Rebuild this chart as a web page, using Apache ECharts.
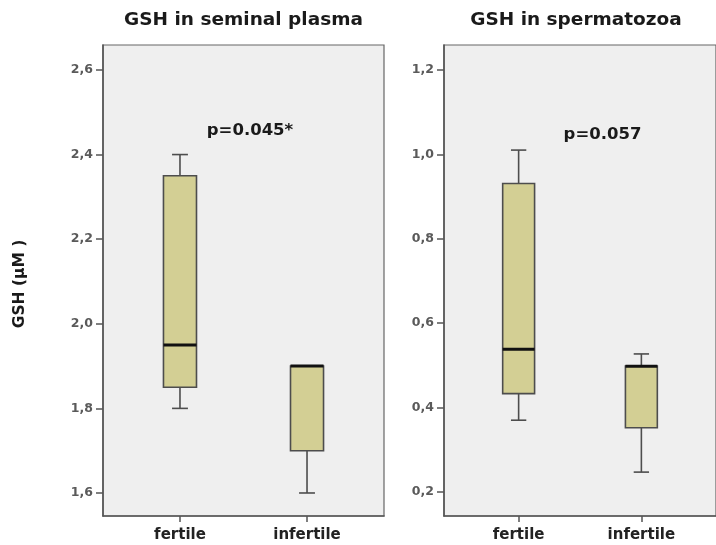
<!DOCTYPE html>
<html>
<head>
<meta charset="utf-8">
<script src="https://cdn.jsdelivr.net/npm/echarts@6/dist/echarts.min.js"></script>
<style>
html,body{margin:0;padding:0;background:#fff;}
#chart{width:716px;height:545px;}
</style>
</head>
<body>
<div id="chart"></div>
<script>
// ---- data ----
const categories = ['fertile', 'infertile'];
// [min, Q1, median, Q3, max]
const plasmaFertile = [1.80, 1.85, 1.95, 2.35, 2.40];
const plasmaInfertile = [1.60, 1.70, 1.90, 1.90, 1.90];
const spermFertile = [0.37, 0.433, 0.538, 0.931, 1.01];
const spermInfertile = [0.247, 0.352, 0.498, 0.498, 0.527];
const plasmaTicks = [1.6, 1.8, 2.0, 2.2, 2.4, 2.6];
const spermTicks = [0.2, 0.4, 0.6, 0.8, 1.0, 1.2];
const titles = ['GSH in seminal plasma', 'GSH in spermatozoa'];
const pValues = ['p=0.045*', 'p=0.057'];
const yName = 'GSH (µM )';

const FONT = 'DejaVu Sans';
const BOX_FILL = '#d3cf94';
const STROKE = '#4d4d4d';

function toData(arrs) {
  return arrs.map((a, i) => [i].concat(a));
}

function renderBox(params, api) {
  const x = api.value(0);
  const lo = api.value(1), q1 = api.value(2), med = api.value(3), q3 = api.value(4), hi = api.value(5);
  const boxW = api.size([0.26, 0])[0];
  const capW = api.size([0.125, 0])[0];
  const pLo = api.coord([x, lo]);
  const pQ1 = api.coord([x, q1]);
  const pMed = api.coord([x, med]);
  const pQ3 = api.coord([x, q3]);
  const pHi = api.coord([x, hi]);
  const cx = pLo[0];
  const lineStyle = { stroke: STROKE, lineWidth: 1.6, fill: null };
  return {
    type: 'group',
    children: [
      { type: 'line', shape: { x1: cx, y1: pHi[1], x2: cx, y2: pQ3[1] }, style: lineStyle },
      { type: 'line', shape: { x1: cx - capW / 2, y1: pHi[1], x2: cx + capW / 2, y2: pHi[1] }, style: lineStyle },
      { type: 'line', shape: { x1: cx, y1: pQ1[1], x2: cx, y2: pLo[1] }, style: lineStyle },
      { type: 'line', shape: { x1: cx - capW / 2, y1: pLo[1], x2: cx + capW / 2, y2: pLo[1] }, style: lineStyle },
      { type: 'rect', shape: { x: cx - boxW / 2, y: pQ3[1], width: boxW, height: pQ1[1] - pQ3[1] },
        style: { fill: BOX_FILL, stroke: STROKE, lineWidth: 1.6 } },
      { type: 'line', shape: { x1: cx - boxW / 2, y1: pMed[1], x2: cx + boxW / 2, y2: pMed[1] },
        style: { stroke: '#111', lineWidth: 3 } }
    ]
  };
}

function xAxisFor(gridIndex, min, max) {
  return {
    type: 'value', gridIndex, min, max,
    splitLine: { show: false },
    axisLine: { show: true, onZero: false, lineStyle: { color: '#555', width: 1.6 } },
    axisTick: { show: true, customValues: [0, 1], length: 6, lineStyle: { color: '#555', width: 1.5 } },
    axisLabel: {
      customValues: [0, 1], margin: 12,
      formatter: v => categories[Math.round(v)],
      fontFamily: FONT, fontWeight: 'bold', fontSize: 15, color: '#222'
    }
  };
}

function yAxisFor(gridIndex, min, max, ticks) {
  return {
    type: 'value', gridIndex, min, max,
    splitLine: { show: false },
    axisLine: { show: true, onZero: false, lineStyle: { color: '#555', width: 1.6 } },
    axisTick: { show: true, customValues: ticks, length: 7, lineStyle: { color: '#555', width: 1.5 } },
    axisLabel: {
      customValues: ticks, margin: 10,
      formatter: v => v.toFixed(1).replace('.', ','),
      fontFamily: FONT, fontWeight: 'bold', fontSize: 12.5, color: '#5a5a5a'
    }
  };
}

const chart = echarts.init(document.getElementById('chart'), null, { renderer: 'canvas' });
chart.setOption({
  backgroundColor: '#fff',
  animation: false,
  grid: [
    { left: 103, top: 45, width: 281, height: 471, show: true, backgroundColor: '#efefef', borderColor: '#666', borderWidth: 1.2 },
    { left: 444, top: 45, width: 282.5, height: 471, show: true, backgroundColor: '#efefef', borderColor: '#666', borderWidth: 1.2 }
  ],
  xAxis: [
    xAxisFor(0, -0.606, 1.606),
    xAxisFor(1, -0.608, 1.608)
  ],
  yAxis: [
    yAxisFor(0, 1.5456, 2.659, plasmaTicks),
    yAxisFor(1, 0.143, 1.259, spermTicks)
  ],
  series: [
    { type: 'custom', xAxisIndex: 0, yAxisIndex: 0, renderItem: renderBox,
      data: toData([plasmaFertile, plasmaInfertile]), encode: { x: 0, y: [1, 2, 3, 4, 5] } },
    { type: 'custom', xAxisIndex: 1, yAxisIndex: 1, renderItem: renderBox,
      data: toData([spermFertile, spermInfertile]), encode: { x: 0, y: [1, 2, 3, 4, 5] } }
  ],
  graphic: [
    { type: 'text', x: 243.5, y: 20, style: { text: titles[0], fontFamily: FONT, fontWeight: 'bold', fontSize: 18.5, fill: '#1a1a1a', textAlign: 'center', textVerticalAlign: 'middle' } },
    { type: 'text', x: 576, y: 20, style: { text: titles[1], fontFamily: FONT, fontWeight: 'bold', fontSize: 18.5, fill: '#1a1a1a', textAlign: 'center', textVerticalAlign: 'middle' } },
    { type: 'text', x: 250, y: 131, style: { text: pValues[0], fontFamily: FONT, fontWeight: 'bold', fontSize: 16.5, fill: '#1a1a1a', textAlign: 'center', textVerticalAlign: 'middle' } },
    { type: 'text', x: 602.5, y: 135, style: { text: pValues[1], fontFamily: FONT, fontWeight: 'bold', fontSize: 16.5, fill: '#1a1a1a', textAlign: 'center', textVerticalAlign: 'middle' } },
    { type: 'text', x: 20, y: 284, rotation: Math.PI / 2, style: { text: yName, fontFamily: FONT, fontWeight: 'bold', fontSize: 15.5, fill: '#1a1a1a', textAlign: 'center', textVerticalAlign: 'middle' } }
  ]
});
</script>
</body>
</html>
